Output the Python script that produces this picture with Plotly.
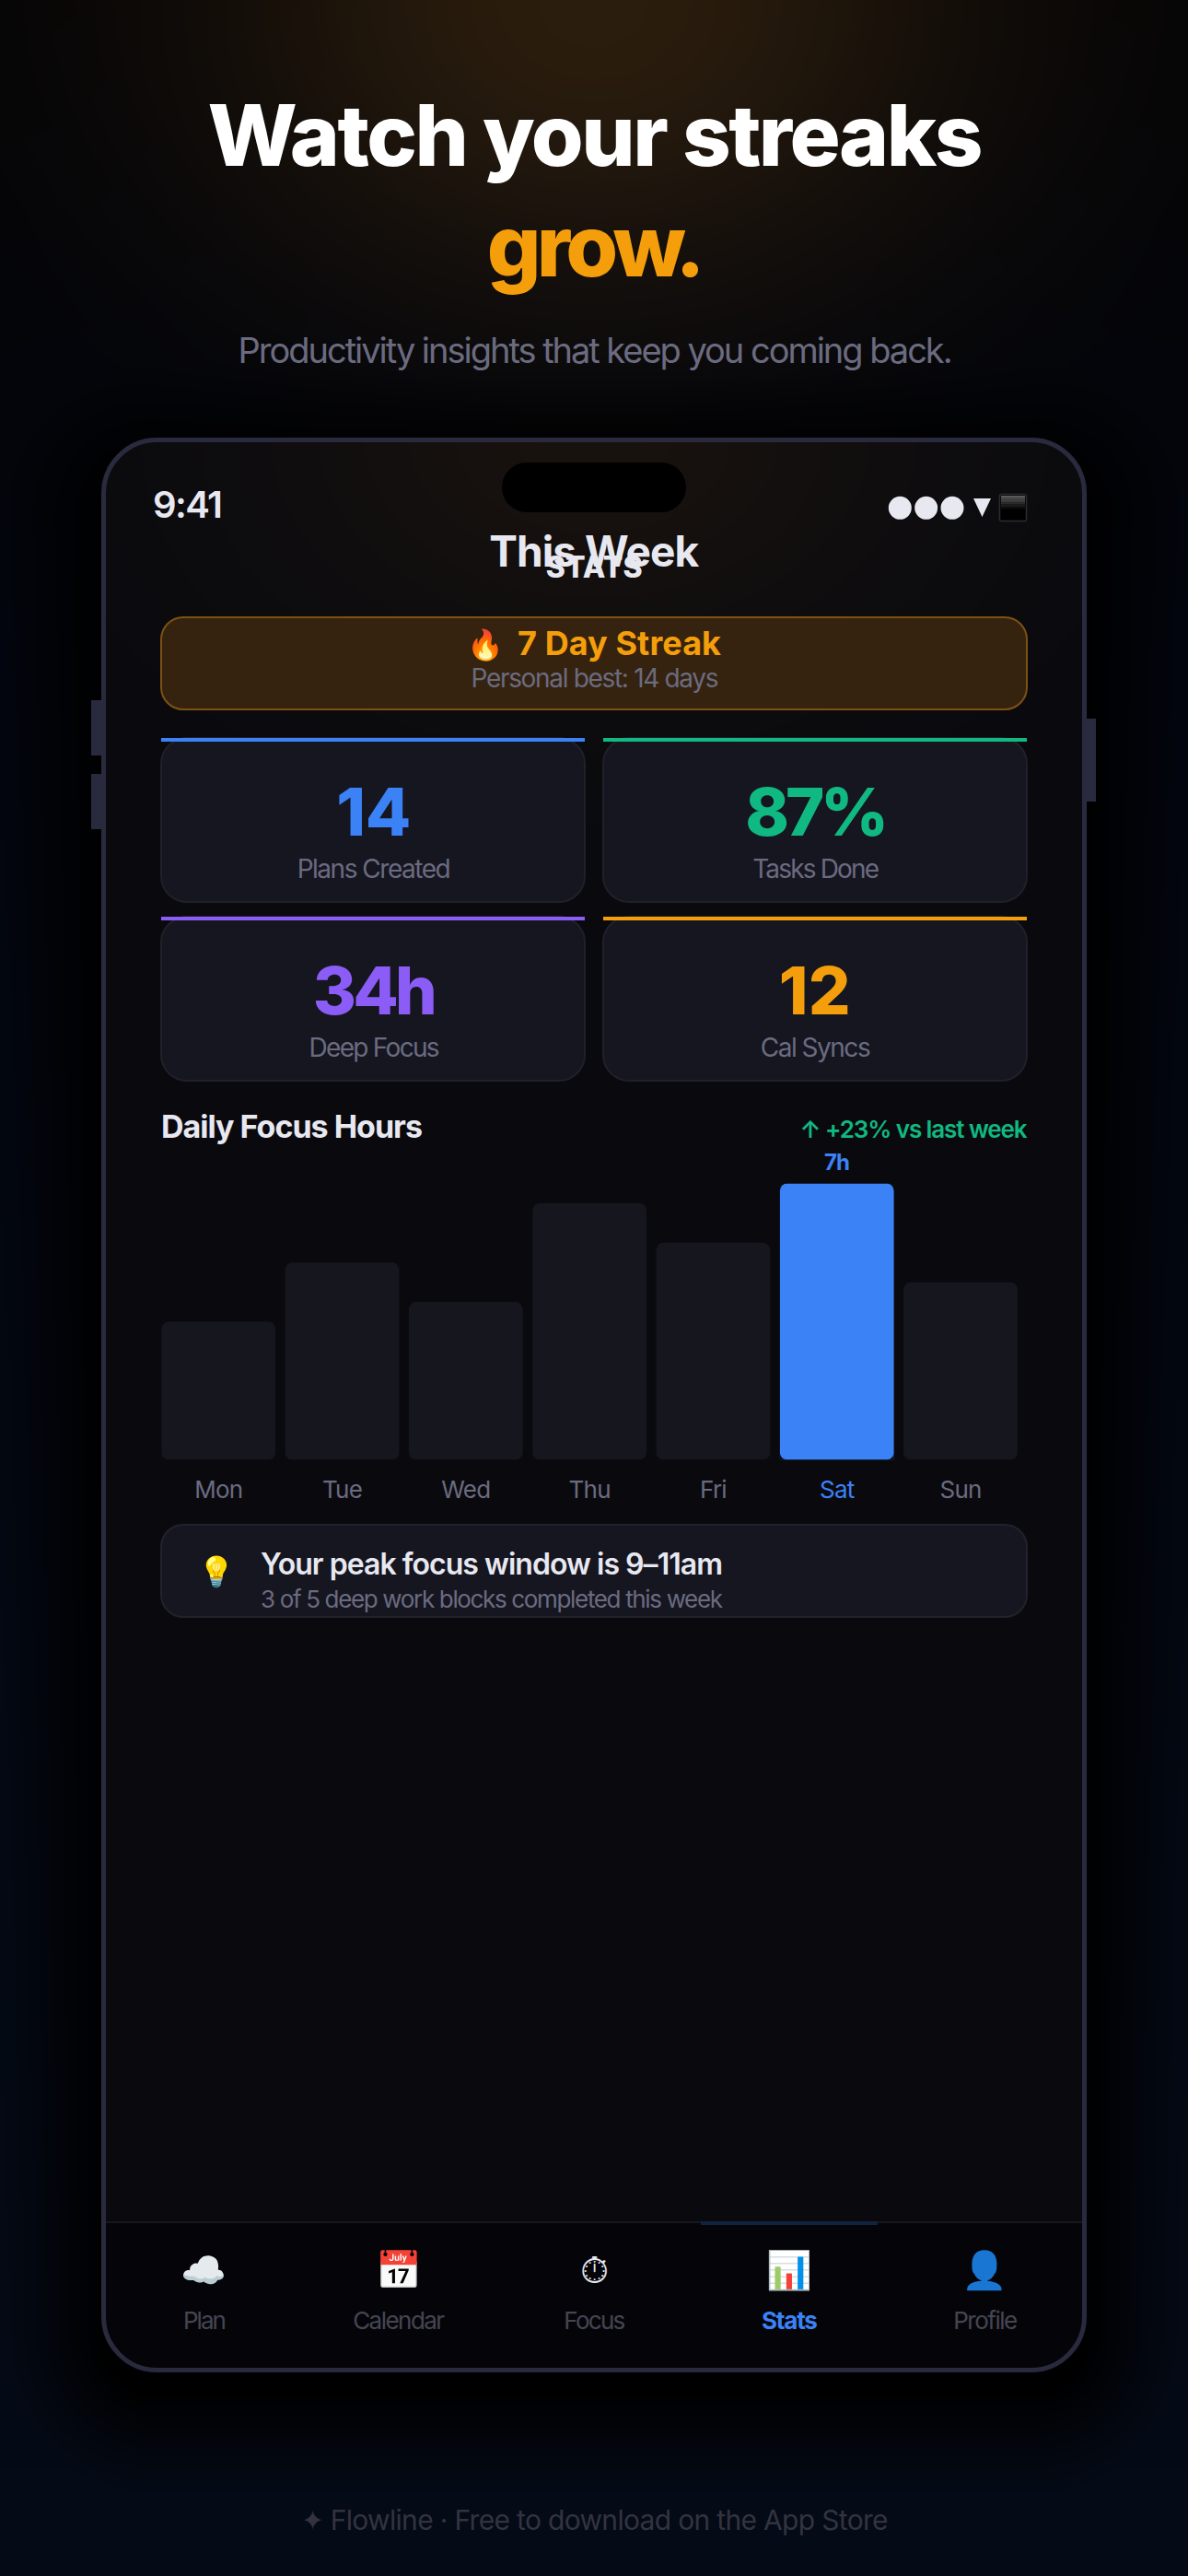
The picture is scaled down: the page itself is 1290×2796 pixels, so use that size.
import base64
import json
import struct
import zlib

import numpy as np
import plotly.graph_objects as go

W = 1290
H = 2796

# chart data
days = ["Mon", "Tue", "Wed", "Thu", "Fri", "Sat", "Sun"]
focus_hours = [3.5, 5, 4, 6.5, 5.5, 7, 4.5]
peak_day = "Sat"
peak_label = "7h"

stat_values = ["14", "87%", "34h", "12"]
stat_labels = ["Plans Created", "Tasks Done", "Deep Focus", "Cal Syncs"]
stat_colors = ["#3b82f6", "#10b981", "#8b5cf6", "#f59e0b"]
stat_value_widths = [81, 156, 135, 78]
stat_label_widths = [167, 138, 142, 120]

tab_labels = ["Plan", "Calendar", "Focus", "Stats", "Profile"]
tab_icons = ["☁️", "📅", "⏱", "📊", "👤"]
tab_widths = [47, 100, 67, 61, 70]

FONT = "Inter"
TEXT = "#e8e8f0"
MUTED = "#6b6b80"
SCREEN = "#0a0a0e"

# widths the texts are squeezed to, filled in by label()
text_widths = {}


def px(x):
    return x / W


def py(y):
    return 1 - y / H


def rounded_path(x0, y0, x1, y1, r):
    k = r * 0.45
    pts = [
        f"M {px(x0 + r)} {py(y0)}",
        f"L {px(x1 - r)} {py(y0)}",
        f"C {px(x1 - k)} {py(y0)} {px(x1)} {py(y0 + k)} {px(x1)} {py(y0 + r)}",
        f"L {px(x1)} {py(y1 - r)}",
        f"C {px(x1)} {py(y1 - k)} {px(x1 - k)} {py(y1)} {px(x1 - r)} {py(y1)}",
        f"L {px(x0 + r)} {py(y1)}",
        f"C {px(x0 + k)} {py(y1)} {px(x0)} {py(y1 - k)} {px(x0)} {py(y1 - r)}",
        f"L {px(x0)} {py(y0 + r)}",
        f"C {px(x0)} {py(y0 + k)} {px(x0 + k)} {py(y0)} {px(x0 + r)} {py(y0)}",
        "Z",
    ]
    return " ".join(pts)


def round_box(x0, y0, x1, y1, r, fill, line=None, lw=2):
    fig.add_shape(type="path", path=rounded_path(x0, y0, x1, y1, r), xref="paper", yref="paper",
                  fillcolor=fill, line=dict(color=line or fill, width=lw if line else 0), layer="below")


def box(x0, y0, x1, y1, fill):
    fig.add_shape(type="rect", x0=px(x0), x1=px(x1), y0=py(y0), y1=py(y1), xref="paper", yref="paper",
                  fillcolor=fill, line=dict(width=0), layer="below")


def label(x, baseline, text, size, color, weight=400, anchor="center", width=None):
    if width:
        text_widths[text] = width
    fig.add_annotation(x=px(x), y=py(baseline - 0.364 * size), xref="paper", yref="paper",
                       text=text, showarrow=False, xanchor=anchor, align=anchor, yanchor="middle",
                       borderpad=0, borderwidth=0,
                       font=dict(family=FONT, size=size, color=color, weight=weight))


def png_uri(rgb):
    h, w, _ = rgb.shape
    raw = b"".join(b"\x00" + rgb[i].tobytes() for i in range(h))

    def chunk(tag, data):
        return struct.pack(">I", len(data)) + tag + data + struct.pack(">I", zlib.crc32(tag + data))

    png = b"\x89PNG\r\n\x1a\n" + chunk(b"IHDR", struct.pack(">IIBBBBB", w, h, 8, 2, 0, 0, 0))
    png += chunk(b"IDAT", zlib.compress(raw, 9)) + chunk(b"IEND", b"")
    return "data:image/png;base64," + base64.b64encode(png).decode()


def background():
    # page gradient, amber glow, phone shadow and screen, baked at half size
    X, Y = np.meshgrid(np.arange(0, W, 2) + 1.0, np.arange(0, H, 2) + 1.0)
    img = np.stack([np.interp(Y, [0, 700, H], [3, 2, 4]),
                    np.interp(Y, [0, 700, H], [3, 5, 10]),
                    np.interp(Y, [0, 700, H], [5, 13, 22])], axis=-1)
    glow = np.exp(-((X - 645) / 420) ** 2 - (Y / 330) ** 2)[..., None]
    img = img + np.array([40, 26, 8.0]) * glow

    def phone_dist(cy):
        qx = np.abs(X - 645) - (535 - 60)
        qy = np.abs(Y - cy) - (1050 - 60)
        return np.hypot(np.maximum(qx, 0), np.maximum(qy, 0)) + np.minimum(np.maximum(qx, qy), 0) - 60

    shade = np.clip(phone_dist(1550) / 105, 0, 1)[..., None] ** 0.9
    img = img * (0.03 + 0.97 * shade)

    screen = np.ones_like(img) * np.array([10, 10, 14.0])
    top = np.exp(-((X - 645) / 330) ** 2 - ((Y - 475) / 230) ** 2)[..., None]
    screen = screen + np.array([14, 8, 0.0]) * top
    screen[Y > 2412] = np.array([5, 5, 9.0])
    img = np.where((phone_dist(1525) < 0)[..., None], screen, img)
    return np.clip(img + 0.5, 0, 255).astype(np.uint8)


fig = go.Figure()

# bars, drawn through the axes
bar_colors = ["#3b82f6" if d == peak_day else "#15161e" for d in days]
tick_text = [f'<span style="color:#3b82f6">{d}</span>' if d == peak_day else d for d in days]
fig.add_trace(go.Bar(x=days, y=focus_hours, cliponaxis=False, marker=dict(color=bar_colors, line=dict(width=0))))

fig.update_layout(
    width=W, height=H, autosize=False, margin=dict(l=0, r=0, t=0, b=0), showlegend=False,
    paper_bgcolor="#000000", plot_bgcolor="rgba(0,0,0,0)", bargap=0.079, barcornerradius=8,
    xaxis=dict(domain=[px(170.1), px(1110.2)], type="category", categoryorder="array", categoryarray=days,
               tickmode="array", tickvals=days, ticktext=tick_text, showgrid=False, zeroline=False, showline=False,
               ticks="outside", ticklen=9, tickcolor="rgba(0,0,0,0)",
               tickfont=dict(family=FONT, size=26, color=MUTED)),
    yaxis=dict(domain=[py(1584.5), py(1284.5)], range=[0, 7], visible=False),
    images=[dict(source=png_uri(background()), xref="paper", yref="paper", x=0, y=1, sizex=1, sizey=1,
                 xanchor="left", yanchor="top", sizing="stretch", layer="below")],
)

fig.add_annotation(x=peak_day, y=focus_hours[days.index(peak_day)], xref="x", yref="y", text=peak_label,
                   showarrow=False, yshift=23, yanchor="middle", align="center",
                   font=dict(family=FONT, size=24, color="#3b82f6", weight=700))
text_widths[peak_label] = 28

# bars only round their top end, so cut the bottom corners with the screen colour
for i in range(len(days)):
    left = 175.4 + i * 134.3
    right = left + 123.7
    for xa, xb in [(left, left + 8), (right, right - 8)]:
        path = (f"M {px(xa)} {py(1584.5)} L {px(xb)} {py(1584.5)} "
                f"C {px(xa + (xb - xa) * 0.45)} {py(1584.5)} {px(xa)} {py(1580.9)} {px(xa)} {py(1576.5)} Z")
        fig.add_shape(type="path", path=path, xref="paper", yref="paper", fillcolor=SCREEN,
                      line=dict(width=0), layer="above")

# phone body
box(99, 760, 110, 820, "#2a2a3e")
box(99, 840, 110, 900, "#2a2a3e")
box(1180, 780, 1190, 870, "#2a2a3e")
fig.add_shape(type="path", path=rounded_path(112.5, 477.5, 1177.5, 2572.5, 58), xref="paper", yref="paper",
              line=dict(color="#2a2a3e", width=5), layer="below")
round_box(545, 502, 745, 556, 27, "#000000")

# status bar
for cx in [977.3, 1005.7, 1034]:
    fig.add_shape(type="circle", x0=px(cx - 12.5), x1=px(cx + 12.5), y0=py(551.3 + 12.5), y1=py(551.3 - 12.5),
                  xref="paper", yref="paper", fillcolor=TEXT, line=dict(width=0), layer="below")
fig.add_shape(type="path", path=f"M {px(1057)} {py(541)} L {px(1076)} {py(541)} L {px(1066.5)} {py(561)} Z",
              xref="paper", yref="paper", fillcolor=TEXT, line=dict(width=0), layer="below")
round_box(1085.5, 536.5, 1114.5, 565.5, 2, "#000000", "#2c2c30", 1.5)
for i, shade in enumerate(["#5a5a5a", "#4c4c4c", "#3c3c3c", "#2c2c2c", "#1c1c1c", "#0c0c0c"]):
    box(1087, 538 + i * 2.4, 1113, 538 + (i + 1) * 2.4, shade)

label(166, 562, "9:41", 40, TEXT, 600, "left", 76)
label(645, 615, "This Week", 46, TEXT, 700, width=228)
label(645, 627.5, "STATS", 32, TEXT, 800, width=105)

# streak banner
round_box(175, 670, 1115, 770, 24, "#35230f", "#7c5212", 2)
label(527, 711, "🔥", 32, "#f59e0b", 400)
label(562, 711, "7 Day Streak", 36, "#f59e0b", 700, "left", 221)
label(645, 746.5, "Personal best: 14 days", 28, MUTED, width=269)

# stat cards
card_x = [(175, 635), (655, 1115)]
card_y = [(801, 979), (995, 1173)]
for i in range(4):
    x0, x1 = card_x[i % 2]
    y0, y1 = card_y[i // 2]
    round_box(x0, y0, x1, y1, 28, "#151620", "#20202a", 2)
    box(x0, y0, x1, y0 + 4, stat_colors[i])
    label((x0 + x1) / 2, y0 + 106, stat_values[i], 72, stat_colors[i], 800, width=stat_value_widths[i])
    label((x0 + x1) / 2, y0 + 151.7, stat_labels[i], 28, MUTED, width=stat_label_widths[i])

# chart header
label(175, 1234.7, "Daily Focus Hours", 34, TEXT, 700, "left", 284)
label(1115, 1234.7, "↑ +23% vs last week", 26, "#10b981", 600, "right", 247)

# insight card
round_box(175, 1655, 1115, 1755, 24, "#151620", "#22222c", 2)
label(235, 1717, "💡", 32, TEXT)
label(283, 1709, "Your peak focus window is 9–11am", 32, TEXT, 600, "left", 502)
label(283, 1745, "3 of 5 deep work blocks completed this week", 26, MUTED, 400, "left", 502)

# tab bar
box(115, 2411, 1175, 2413, "#17171f")
box(761, 2411, 953, 2415, "#12233f")
tab_x = [221, 433, 645, 857, 1069]
for name, icon, x, tw in zip(tab_labels, tab_icons, tab_x, tab_widths):
    active = name == "Stats"
    label(x, 2478, icon, 40, TEXT)
    label(x, 2527.7, name, 26, "#3b82f6" if active else "#454552", 700 if active else 400, width=tw)

# page text
label(645, 180, "Watch your streaks", 92, "#ffffff", 800, width=842)
label(645, 300, "grow.", 92, "#f59e0b", 800, width=237)
label(645, 394, "Productivity insights that keep you coming back.", 38, MUTED, width=776)
label(645, 2745.7, "✦ Flowline · Free to download on the App Store", 30, "#33333f", width=638)

# plotly has no letter spacing option, so set it on the drawn text
fit_script = """
document.body.style.margin = '0';
document.documentElement.style.overflow = 'hidden';
var widths = %s;
document.querySelectorAll('.annotation-text').forEach(function (el) {
    var want = widths[el.textContent];
    if (want) {
        var n = el.textContent.length - 1;
        el.style.letterSpacing = ((want - el.getComputedTextLength()) / n) + 'px';
    }
});
document.querySelectorAll('.xtick text').forEach(function (el) {
    el.style.letterSpacing = '-0.8px';
});
""" % json.dumps(text_widths)

fig.write_html("out.html", config=dict(displayModeBar=False), post_script=fit_script)
